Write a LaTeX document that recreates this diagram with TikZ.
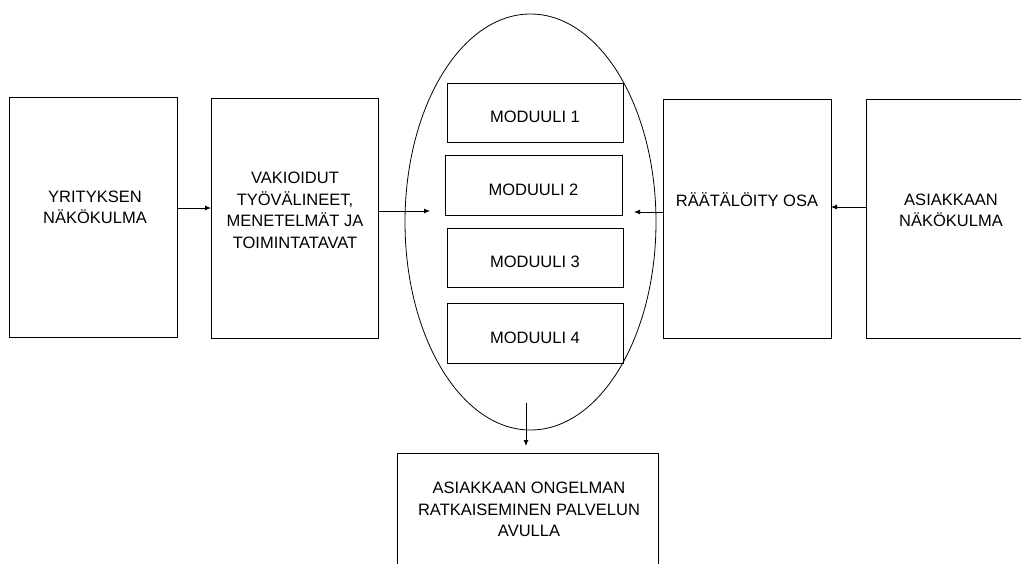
\documentclass[tikz,border=0pt]{standalone}
\usepackage{fontspec}
\setmainfont{Liberation Sans}
\usetikzlibrary{shapes.geometric,arrows.meta}
\begin{document}
\begin{tikzpicture}[x=1pt,y=-1pt,
  box/.style={draw,line width=0.8pt,inner sep=0pt,outer sep=0pt},
  lbl/.style={align=center,font=\fontsize{16.5}{21.5}\selectfont,inner sep=0pt},
  arr/.style={-{Latex[length=6pt,width=5pt]},line width=0.8pt}]
\useasboundingbox (0,0) rectangle (1021,563);
\clip (0,0) rectangle (1021,563);

% service core: the ellipse holding the modules
\node[draw,ellipse,line width=0.8pt,inner sep=0pt,minimum width=251pt,minimum height=416pt] (core) at (530.5,222) {};

% outer boxes
\node[box,minimum width=168pt,minimum height=240pt] (yr)  at (93,217) {};
\node[box,minimum width=167pt,minimum height=240pt] (vak) at (294.5,218) {};
\node[box,minimum width=168pt,minimum height=239pt] (raa) at (747,218.5) {};
\node[box,minimum width=168pt,minimum height=239pt] (asi) at (950,218.5) {};

% modules
\node[box,minimum width=176pt,minimum height=59pt] (m1) at (535,112.5) {};
\node[box,minimum width=177pt,minimum height=60pt] (m2) at (533.5,185) {};
\node[box,minimum width=176pt,minimum height=59pt] (m3) at (535,257.5) {};
\node[box,minimum width=176pt,minimum height=60pt] (m4) at (535,333) {};

% result box
\node[box,minimum width=261pt,minimum height=154pt] (res) at (527.5,530) {};

% texts
\node[lbl] (tyr)  at (95,207.5) {YRITYKSEN\\NÄKÖKULMA};
\node[lbl] (tvak) at (295,210.5) {VAKIOIDUT\\TYÖVÄLINEET,\\MENETELMÄT JA\\TOIMINTATAVAT};
\node[lbl] (traa) at (747,200) {RÄÄTÄLÖITY OSA};
\node[lbl] (tasi) at (951,210.5) {ASIAKKAAN\\NÄKÖKULMA};
\node[lbl] (tm1) at (535,117) {MODUULI 1};
\node[lbl] (tm2) at (533.5,190) {MODUULI 2};
\node[lbl] (tm3) at (535,262) {MODUULI 3};
\node[lbl] (tm4) at (535,338) {MODUULI 4};
\node[lbl] (tres) at (529,509.5) {ASIAKKAAN ONGELMAN\\RATKAISEMINEN PALVELUN\\AVULLA};

% connectors
\coordinate (inL) at (430,211);
\coordinate (inR) at (634,212);
\coordinate (outS) at (526,403);
\coordinate (inS) at (526,446);
\draw[arr] (yr.east |- 0,208) -- (vak.west |- 0,208);
\draw[arr] (vak.east |- inL) -- (inL);
\draw[arr] (raa.west |- inR) -- (inR);
\draw[arr] (asi.west |- 0,207) -- (raa.east |- 0,207);
\draw[arr] (outS) -- (inS);
\end{tikzpicture}
\end{document}
